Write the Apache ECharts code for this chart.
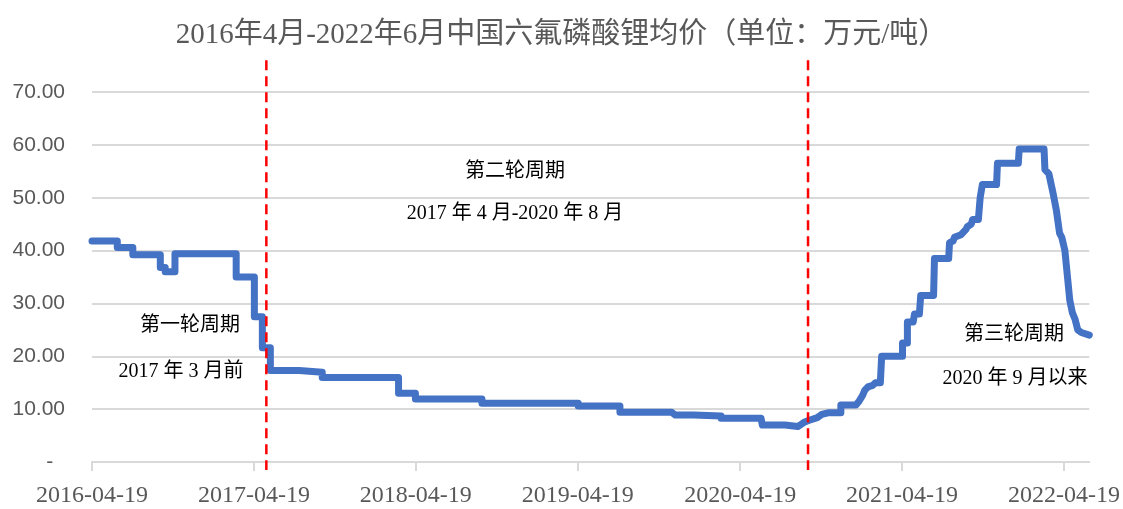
<!DOCTYPE html>
<html>
<head>
<meta charset="utf-8">
<script src="https://cdn.jsdelivr.net/npm/echarts@6/dist/echarts.min.js"></script>
<style>
  html, body { margin: 0; padding: 0; background: #fff; }
  #main { width: 1123px; height: 509px; }
</style>
</head>
<body>
<div id="main"></div>
<script>
// 均价折线的拐点（日期 / 万元每吨），同一日期出现两次表示台阶
var priceDates = [
    '2016-04-19', '2016-06-15', '2016-06-15', '2016-07-20', '2016-07-20', '2016-09-20',
    '2016-09-20', '2016-10-01', '2016-10-01', '2016-10-23', '2016-10-23', '2017-03-10',
    '2017-03-10', '2017-04-20', '2017-04-20', '2017-05-08', '2017-05-08', '2017-05-26',
    '2017-05-26', '2017-07-30', '2017-07-30', '2017-09-20', '2017-09-20', '2018-03-11',
    '2018-03-11', '2018-04-18', '2018-04-18', '2018-09-15', '2018-09-15', '2019-04-20',
    '2019-04-20', '2019-07-23', '2019-07-23', '2019-11-17', '2019-11-24', '2020-01-05',
    '2020-01-08', '2020-03-07', '2020-03-07', '2020-06-05', '2020-06-08', '2020-07-29',
    '2020-07-29', '2020-08-27', '2020-09-10', '2020-09-22', '2020-10-10', '2020-10-20',
    '2020-11-03', '2020-12-02', '2020-12-02', '2021-01-05', '2021-01-12', '2021-01-20',
    '2021-01-25', '2021-02-01', '2021-02-12', '2021-02-18', '2021-03-01', '2021-03-04',
    '2021-04-20', '2021-04-20', '2021-05-01', '2021-05-01', '2021-05-14', '2021-05-17',
    '2021-05-28', '2021-05-31', '2021-06-29', '2021-07-01', '2021-08-02', '2021-08-04',
    '2021-08-12', '2021-08-15', '2021-08-30', '2021-09-02', '2021-09-10', '2021-09-13',
    '2021-09-22', '2021-09-25', '2021-10-08', '2021-10-12', '2021-10-17', '2021-11-18',
    '2021-11-20', '2022-01-06', '2022-01-08', '2022-03-05', '2022-03-07', '2022-03-16',
    '2022-03-25', '2022-04-02', '2022-04-09', '2022-04-14', '2022-04-21', '2022-05-02',
    '2022-05-08', '2022-05-14', '2022-05-20', '2022-05-28', '2022-06-15'
];
var priceValues = [
    41.8, 41.8, 40.6, 40.6, 39.2, 39.2,
    36.8, 36.8, 36.0, 36.0, 39.4, 39.4,
    35.0, 35.0, 27.5, 27.5, 21.6, 21.6,
    17.3, 17.3, 17.0, 17.0, 16.0, 16.0,
    13.0, 13.0, 11.9, 11.9, 11.1, 11.1,
    10.6, 10.6, 9.4, 9.4, 8.9, 8.9,
    8.7, 8.7, 8.3, 8.3, 7.0, 7.0,
    6.7, 6.7, 7.5, 7.9, 8.4, 9.0,
    9.3, 9.3, 10.8, 10.8, 11.5, 12.6,
    13.6, 14.2, 14.5, 15.0, 15.0, 20.0,
    20.0, 22.5, 22.5, 26.5, 26.5, 28.0,
    28.0, 31.5, 31.5, 38.5, 38.5, 41.5,
    41.8, 42.5, 43.0, 43.3, 44.0, 44.5,
    45.0, 45.9, 45.9, 50.0, 52.5, 52.5,
    56.5, 56.5, 59.2, 59.2, 55.3, 54.5,
    51.0, 47.5, 43.3, 42.5, 40.0, 30.6,
    28.2, 27.0, 25.0, 24.5, 24.0
];
// 周期分界线
var cycleDates = ['2017-05-17', '2020-09-19'];
// 标注文字
var notes = [
    {text: '第一轮周期', x: 190, y: 326},
    {text: '2017 年 3 月前', x: 181, y: 372},
    {text: '第二轮周期', x: 515, y: 172},
    {text: '2017 年 4 月-2020 年 8 月', x: 515, y: 214},
    {text: '第三轮周期', x: 1014, y: 335},
    {text: '2020 年 9 月以来', x: 1015, y: 379}
];

// 按天生成横轴类目
var categories = [];
var d = new Date(Date.UTC(2016, 3, 19));
var end = new Date(Date.UTC(2022, 5, 15));
while (d <= end) {
    categories.push(d.toISOString().slice(0, 10));
    d.setUTCDate(d.getUTCDate() + 1);
}
function isYearTick(index, value) {
    return value.slice(5) === '04-19';
}

var series = [
    {
        type: 'line',
        clip: false,
        showSymbol: false,
        data: priceDates.map(function (t, i) { return [t, priceValues[i]]; }),
        lineStyle: {color: '#4472c4', width: 7, join: 'round', cap: 'round'},
        itemStyle: {color: '#4472c4'},
        z: 3
    }
];
cycleDates.forEach(function (t) {
    series.push({
        type: 'line',
        clip: false,
        silent: true,
        showSymbol: false,
        data: [[t, 76], [t, -1.5]],
        lineStyle: {color: '#ff0000', width: 2.5, type: [10, 6]},
        z: 4
    });
});

var myChart = echarts.init(document.getElementById('main'));
var option = {
    animation: false,
    title: {
        text: '2016年4月-2022年6月中国六氟磷酸锂均价（单位：万元/吨）',
        left: 'center',
        top: 16,
        textStyle: {
            fontFamily: '"Liberation Serif", "Noto Sans CJK SC"',
            fontSize: 29,
            fontWeight: 'normal',
            color: '#595959'
        }
    },
    grid: {left: 92, right: 31, top: 92, bottom: 47},
    xAxis: {
        type: 'category',
        data: categories,
        boundaryGap: false,
        axisLine: {lineStyle: {color: '#d9d9d9', width: 2}},
        axisTick: {show: true, interval: isYearTick, length: 9, lineStyle: {color: '#d9d9d9', width: 2}},
        axisLabel: {
            interval: isYearTick,
            margin: 22,
            color: '#595959',
            fontFamily: '"Liberation Serif"',
            fontSize: 24
        },
        splitLine: {show: false}
    },
    yAxis: {
        type: 'value',
        min: 0,
        max: 70,
        interval: 10,
        axisLine: {show: false},
        axisTick: {show: false},
        axisLabel: {
            margin: 27,
            color: '#595959',
            fontFamily: '"Liberation Sans"',
            fontSize: 21,
            formatter: function (v) {
                return v === 0 ? '-  ' : v.toFixed(2);
            }
        },
        splitLine: {lineStyle: {color: '#d9d9d9', width: 2}}
    },
    series: series,
    graphic: notes.map(function (n) {
        return {
            type: 'text',
            x: n.x,
            y: n.y,
            silent: true,
            style: {
                text: n.text,
                fill: '#000',
                font: '20px "Liberation Serif", "Noto Sans CJK SC"',
                textAlign: 'center',
                textVerticalAlign: 'middle',
                align: 'center',
                verticalAlign: 'middle'
            }
        };
    })
};
myChart.setOption(option);
</script>
</body>
</html>
